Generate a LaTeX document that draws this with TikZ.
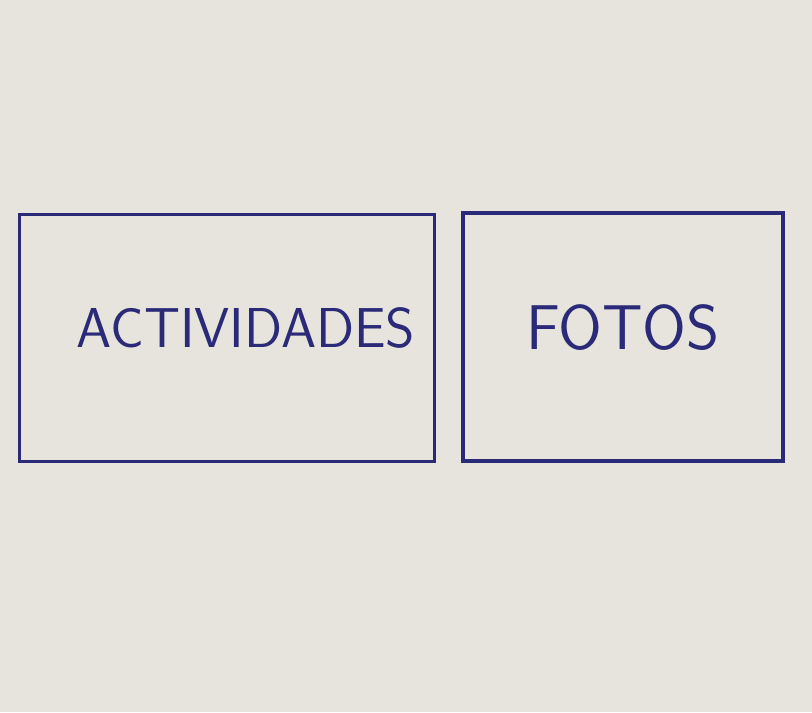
\documentclass[tikz,border=0pt]{standalone}
\usepackage{tikz}
\usetikzlibrary{positioning}
\definecolor{ink}{RGB}{42,42,120}
\definecolor{paper}{RGB}{230,228,220}
\tikzset{box/.style = {draw = ink, line width = 1.1pt, rectangle, text = ink, text depth = 0.2cm, font = {\sffamily\fontsize{16pt}{18}\selectfont}}}

\begin{document}
\begin{tikzpicture}[y = -1cm]
\fill[paper] (0,0) rectangle (8.12, 7.12);
\useasboundingbox (0,0) rectangle (8.12, 7.12);

\node[box, minimum width = 4.15cm, minimum height = 2.47cm] (ACT) at (2.27, 3.38) {\hspace{0.38cm}ACTIVIDADES};
\node[box, minimum width = 3.2cm, minimum height = 2.48cm] (FOT) at (6.23, 3.37) {\fontsize{18pt}{20}\selectfont FOTOS};
\end{tikzpicture}
\end{document}
